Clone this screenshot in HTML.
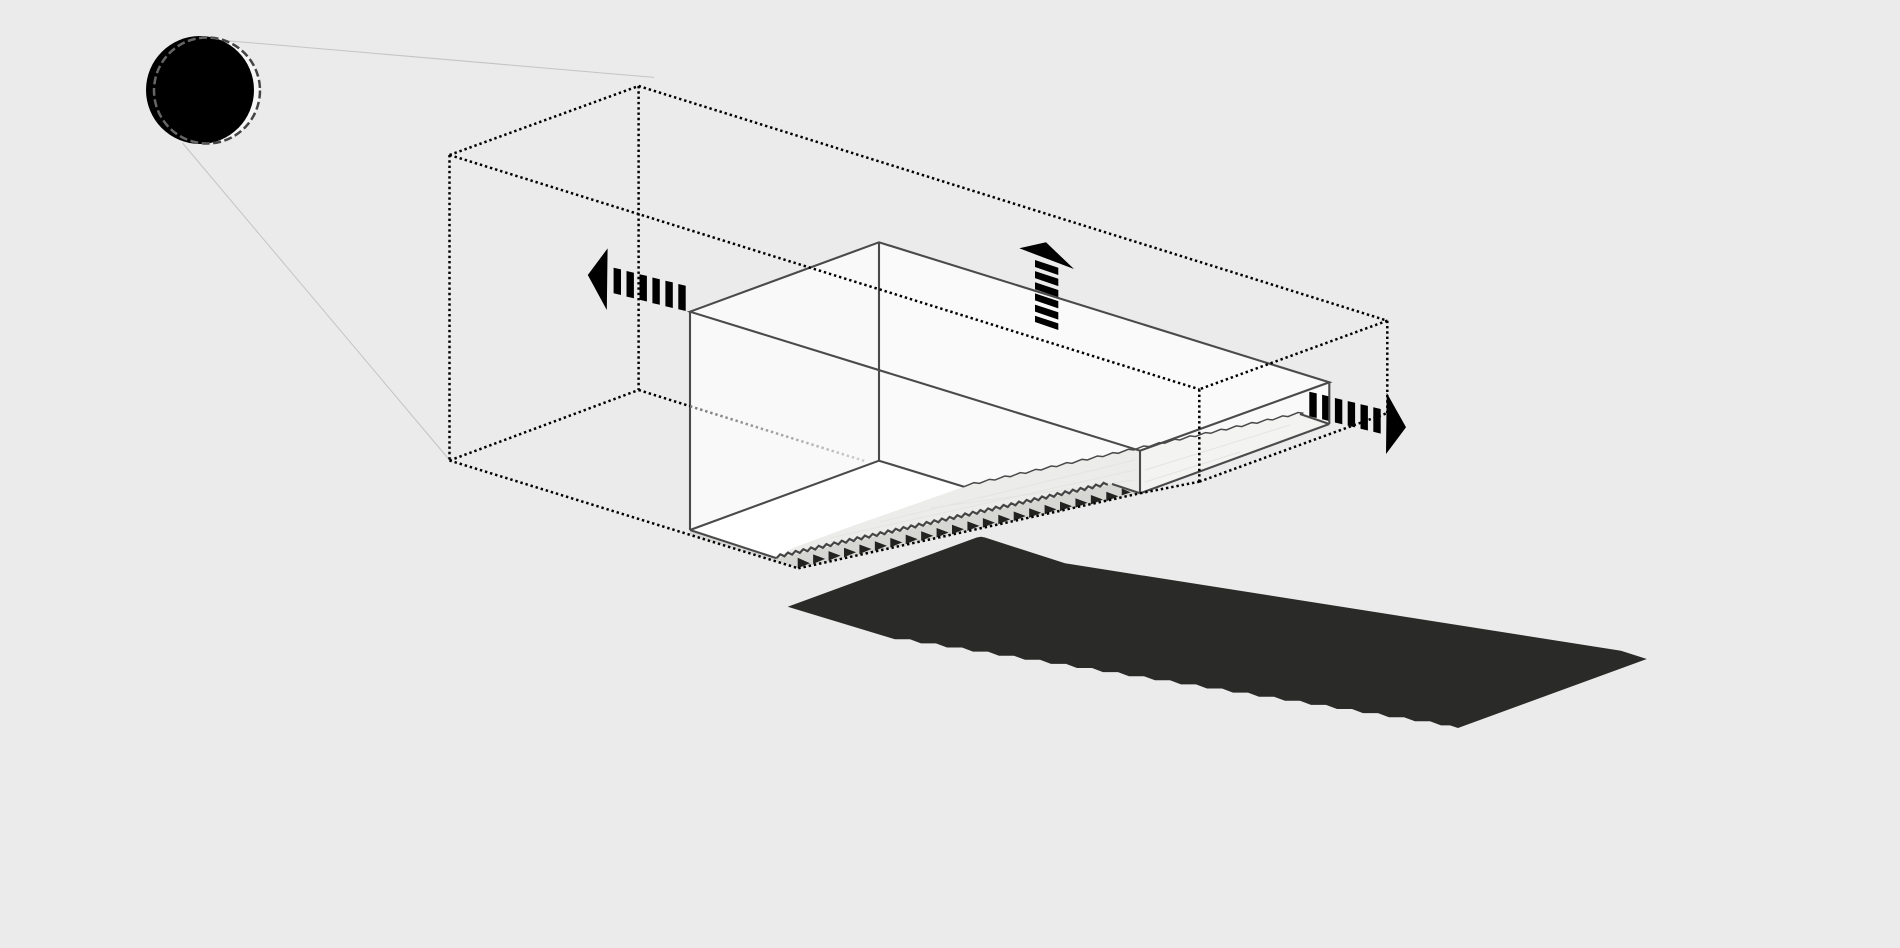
<!DOCTYPE html>
<html><head><meta charset="utf-8"><title>Diagram</title>
<style>html,body{margin:0;padding:0;background:#ebebeb}svg{display:block}</style></head>
<body>
<svg xmlns="http://www.w3.org/2000/svg" width="1900" height="948" viewBox="0 0 1900 948">
<defs>
<clipPath id="sun"><circle cx="200" cy="90" r="54"/></clipPath>
<linearGradient id="fade" gradientUnits="userSpaceOnUse" x1="690" y1="0" x2="867" y2="0"><stop offset="0" stop-color="#777"/><stop offset="1" stop-color="#d0d0d0"/></linearGradient>
</defs>
<rect width="1900" height="948" fill="#ebebeb"/>

<!-- shadow -->
<polygon fill="#2a2a28" points="787.7,606.7 976.7,537.5 981,536.7 985,537.5 1065,563.3 1621,650.7 1646.8,659 1458,728 1450,725.4 1441,725.4 1430,721.3 1415,721.3 1404,717.2 1389,717.2 1378,713.1 1363,713.1 1352,709 1337,709 1326,704.9 1311,704.9 1300,700.8 1285,700.8 1274,696.7 1259,696.7 1248,692.6 1233,692.6 1222,688.5 1207,688.5 1196,684.4 1181,684.4 1170,680.3 1155,680.3 1144,676.2 1129,676.2 1118,672.1 1103,672.1 1092,668 1077,668 1066,663.9 1051,663.9 1040,659.8 1025,659.8 1014,655.7 999,655.7 988,651.6 973,651.6 962,647.5 947,647.5 936,643.4 921,643.4 910,639.3 895,639.3"/>

<!-- sun -->
<g fill="none" stroke="#c4c4c4" stroke-width="1">
<line x1="227" y1="40.7" x2="654" y2="77.4"/>
<line x1="182.5" y1="143" x2="448.6" y2="459"/>
</g>
<circle cx="207" cy="90.5" r="53" fill="#f6f6f6" stroke="#444" stroke-width="2.5" stroke-dasharray="8 3.5"/>
<circle cx="200" cy="90" r="54" fill="#000"/>
<circle cx="207" cy="90.5" r="53" fill="none" stroke="#666" stroke-width="2.5" stroke-dasharray="8 3.5" clip-path="url(#sun)"/>

<!-- box fills -->
<polygon fill="#f9f9f9" points="690,311.7 879,242.3 879,460.7 690,530"/>
<polygon fill="#fafafa" points="879,242.3 1329.3,382.3 1140,450.7 1140,493.3 964,486.7 879,460.7"/>
<polygon fill="#ffffff" points="690,530 879,460.7 964,486.7 776.7,558.3"/>
<polygon fill="#f9f9f9" points="1140,450.7 1329.3,382.3 1329.3,424 1140,493.3"/>
<!-- stair top surface -->
<polygon fill="#ececea" points="776.7,558 793,548 846.7,528 918,503 964,486.7 1140,447 1140,493.3 1112,484"/>
<polygon fill="#f3f3f1" points="1140,449 1300,414 1329.3,424 1140,493.3"/>
<g stroke="#e4e4e1" stroke-width="1" fill="none">
<line x1="830" y1="538" x2="1135" y2="470"/>
<line x1="880" y1="522" x2="1135" y2="460"/>
<line x1="930" y1="508" x2="1135" y2="480"/>
<line x1="1145" y1="470" x2="1290" y2="425"/>
<line x1="1145" y1="482" x2="1240" y2="452"/>
</g>
<!-- risers -->
<polygon fill="#d6d6d2" points="776.7,558.3 1112,484 1140,493.3 798.3,568.3"/>
<polygon fill="#d8d8d6" points="690,530 776.7,558.3 798.3,568.3 690,534.9"/>
<path fill="#222220" d="M797.7 557.7v10.6l12.3-5zm15.43-3.3v9.5l12-5zm15.43-3.3v9.5l12-5zm15.43-3.3v9.5l12-5zm15.43-3.3v9.5l12-5zm15.43-3.3v9.5l12-5zm15.43-3.3v9.5l12-5zm15.43-3.3v9.5l12-5zm15.43-3.3v9.5l12-5zm15.43-3.3v9.5l12-5zm15.43-3.3v9.5l12-5zm15.43-3.3v9.5l12-5zm15.43-3.3v9.5l12-5zm15.43-3.3v9.5l12-5zm15.43-3.3v9.5l12-5zm15.43-3.3v9.5l12-5zm15.43-3.3v9.5l12-5zm15.43-3.3v9.5l12-5zm15.43-3.3v9.5l12-5zm15.43-3.3v9.5l12-5zm15.43-3.3v9.5l12-5zm15.43-3.3v7l9-3z"/>
<!-- zigzag -->
<path fill="none" stroke="#444" stroke-width="2.2" stroke-linejoin="miter" d="M776.7 558l3.5-3.7 4.2 2 3.5-3.7 4.2 2 3.5-3.7 4.2 2 3.5-3.7 4.2 2 3.5-3.7 4.2 2 3.5-3.7 4.2 2 3.5-3.7 4.2 2 3.5-3.7 4.2 2 3.5-3.7 4.2 2 3.5-3.7 4.2 2 3.5-3.7 4.2 2 3.5-3.7 4.2 2 3.5-3.7 4.2 2 3.5-3.7 4.2 2 3.5-3.7 4.2 2 3.5-3.7 4.2 2 3.5-3.7 4.2 2 3.5-3.7 4.2 2 3.5-3.7 4.2 2 3.5-3.7 4.2 2 3.5-3.7 4.2 2 3.5-3.7 4.2 2 3.5-3.7 4.2 2 3.5-3.7 4.2 2 3.5-3.7 4.2 2 3.5-3.7 4.2 2 3.5-3.7 4.2 2 3.5-3.7 4.2 2 3.5-3.7 4.2 2 3.5-3.7 4.2 2 3.5-3.7 4.2 2 3.5-3.7 4.2 2 3.5-3.7 4.2 2 3.5-3.7 4.2 2 3.5-3.7 4.2 2 3.5-3.7 4.2 2 3.5-3.7 4.2 2 3.5-3.7 4.2 2 3.5-3.7 4.2 2 3.5-3.7 4.2 2 3.5-3.7 4.2 2 3.5-3.7 4.2 2 3.5-3.7 4.2 2"/>

<!-- arrows -->
<g fill="#000">
<polygon points="587.8,275 607.6,248.4 606.8,310"/>
<polygon points="613.6,267.7 621,269.4 621,295 613.6,293.3"/>
<polygon points="626.5,271 633.9,272.7 633.9,298.3 626.5,296.6"/>
<polygon points="639.5,274.2 646.9,275.9 646.9,301.5 639.5,299.8"/>
<polygon points="652.4,277.5 659.8,279.2 659.8,304.8 652.4,303.1"/>
<polygon points="665.4,280.7 672.8,282.4 672.8,308 665.4,306.3"/>
<polygon points="678.3,284 685.7,285.7 685.7,311 678.3,309.3"/>

<polygon points="1019.3,248.3 1046,242.3 1074,269"/>
<polygon points="1035,260 1058.3,267.7 1058.3,275 1035,267"/>
<polygon points="1035,271.1 1058.3,278.8 1058.3,286.1 1035,278.1"/>
<polygon points="1035,282.3 1058.3,290 1058.3,297.3 1035,289.3"/>
<polygon points="1035,293.4 1058.3,301.1 1058.3,308.4 1035,300.4"/>
<polygon points="1035,304.6 1058.3,312.3 1058.3,319.6 1035,311.6"/>
<polygon points="1035,315.7 1058.3,323.4 1058.3,330 1035,322"/>

<polygon points="1386.7,392.7 1406,427.3 1386,454"/>
<polygon points="1309.3,391.7 1316.7,393.4 1316.7,418 1309.3,416.2"/>
<polygon points="1322.1,394.8 1329.5,396.5 1329.5,421.1 1322.1,419.3"/>
<polygon points="1334.9,398 1342.3,399.7 1342.3,424.3 1334.9,422.5"/>
<polygon points="1347.7,401.1 1355.1,402.8 1355.1,427.4 1347.7,425.6"/>
<polygon points="1360.5,404.2 1367.9,405.9 1367.9,430.5 1360.5,428.7"/>
<polygon points="1373.3,407.3 1380.7,409 1380.7,433.6 1373.3,431.8"/>
</g>

<!-- solid lines -->
<g fill="none" stroke="#4a4a4a" stroke-width="2.1">
<polygon points="690,311.7 879,242.3 1329.3,382.3 1140,450.7"/>
<line x1="690" y1="311.7" x2="690" y2="530"/>
<line x1="879" y1="242.3" x2="879" y2="460.7"/>
<line x1="690" y1="530" x2="879" y2="460.7"/>
<line x1="879" y1="460.7" x2="964" y2="486.7"/>
<line x1="690" y1="530" x2="776.7" y2="558.3"/>
<line x1="1140" y1="450.7" x2="1140" y2="493.3"/>
<line x1="1329.3" y1="382.3" x2="1329.3" y2="424"/>
<line x1="1140" y1="493.3" x2="1329.3" y2="424"/>
<line x1="1112" y1="484" x2="1140" y2="493.3"/>
<line x1="1300" y1="414" x2="1329.3" y2="424"/>
<path stroke-width="1.5" d="M964 486.7l10-4 5.43 .66 10-4 5.43 .66 10-4 5.43 .66 10-4 5.43 .66 10-4 5.43 .66 10-4 5.43 .66 10-4 5.43 .66 10-4 5.43 .66 10-4 5.43 .66 10-4 5.43 .66 10-4 5.43 .66 10-4 5.43 .66 10-4 5.43 .66 10-4 5.43 .66 10-4 5.43 .66 10-4 5.43 .66 10-4 5.43 .66 10-4 5.43 .66 10-4 5.43 .66 10-4 5.43 .66 10-4 5.43 .66 10-4 5.43 .66"/>
</g>

<!-- dotted box -->
<g fill="none" stroke="#000" stroke-width="2.5" stroke-dasharray="2.4 2.9">
<line x1="449.5" y1="155" x2="638.6" y2="86"/>
<line x1="449.5" y1="155" x2="449.5" y2="460.5"/>
<line x1="638.6" y1="86" x2="638.6" y2="390"/>
<line x1="449.5" y1="460.5" x2="638.6" y2="390"/>
<line x1="449.5" y1="155" x2="1199.3" y2="389.3"/>
<line x1="638.6" y1="86" x2="1387.3" y2="320.7"/>
<line x1="1387.3" y1="320.7" x2="1199.3" y2="389.3"/>
<line x1="1387.3" y1="320.7" x2="1387.3" y2="413"/>
<line x1="1199.3" y1="389.3" x2="1199.3" y2="481.7"/>
<line x1="1199.3" y1="481.7" x2="1387.3" y2="413"/>
<line x1="449.5" y1="460.5" x2="798.3" y2="568.3"/>
<line x1="798.3" y1="568.3" x2="1140" y2="493.3"/>
<line x1="1140" y1="493.3" x2="1199.3" y2="481.7"/>
<line x1="638.6" y1="390" x2="690" y2="406.2"/>
</g>
<line x1="690" y1="406.2" x2="866.7" y2="461.7" stroke="url(#fade)" stroke-width="2.5" stroke-dasharray="2.4 2.9" fill="none"/>
</svg>
</body></html>
